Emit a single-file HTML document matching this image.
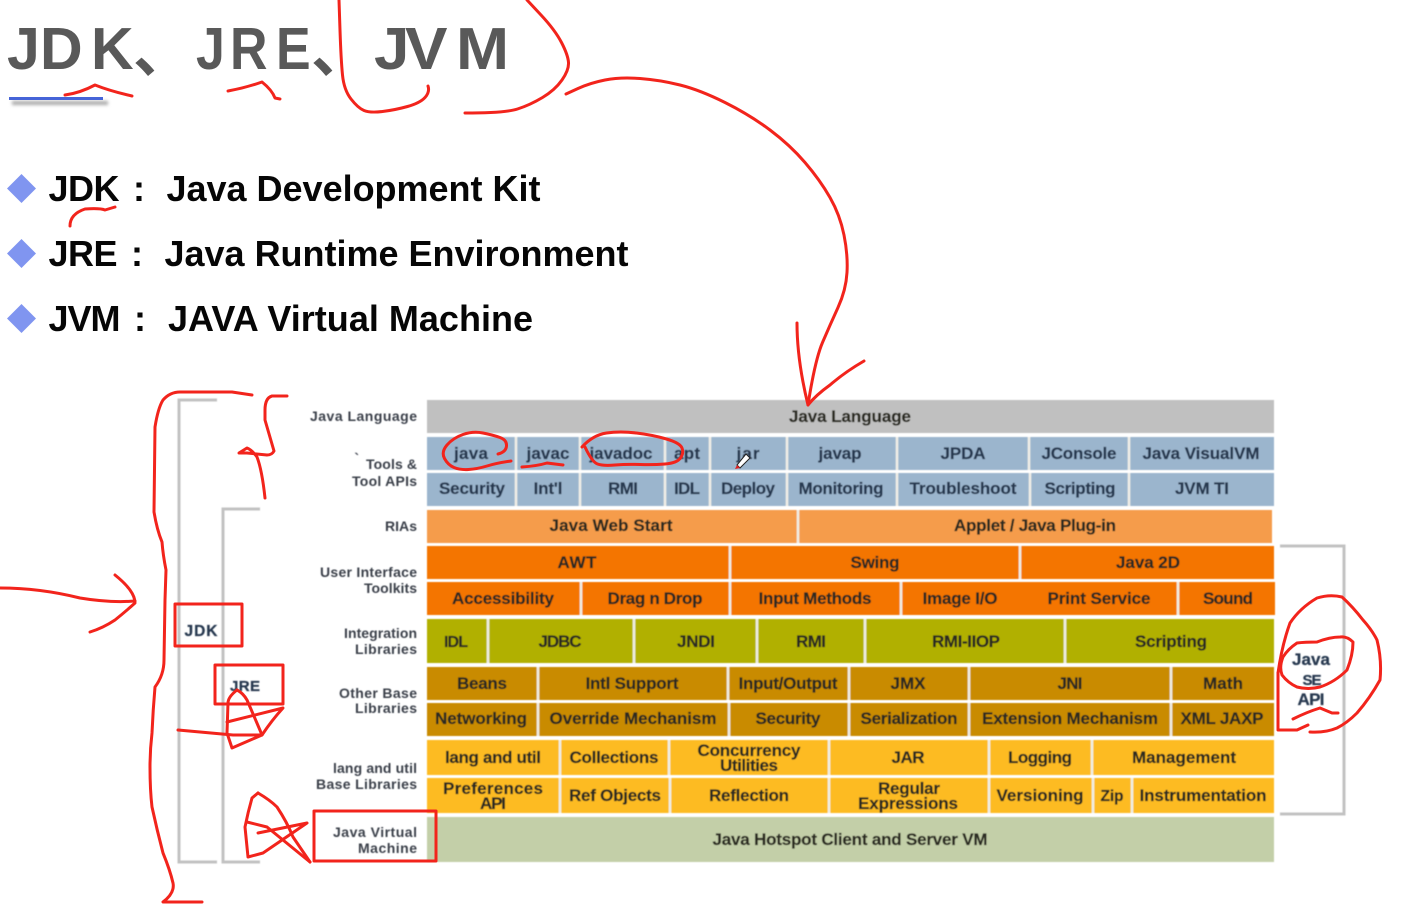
<!DOCTYPE html>
<html>
<head>
<meta charset="utf-8">
<title>JDK JRE JVM</title>
<style>
html,body{margin:0;padding:0;background:#fff;width:1414px;height:904px;overflow:hidden}
svg{display:block}
text{font-family:"Liberation Sans","Noto Sans CJK SC",sans-serif}
.t{font-weight:bold;font-size:59px;fill:#595959}
.b{font-weight:bold;font-size:36px;fill:#060606}
.c{font-weight:bold;font-size:17px;fill:#2a2a20;text-anchor:middle;stroke:#2a2a20;stroke-width:.25}
.n{fill:#26384f;stroke:#26384f}
.l{font-weight:bold;font-size:14px;fill:#3a3f4a;text-anchor:end}
.r{fill:none;stroke:#f2241c;stroke-width:3;stroke-linejoin:round;stroke-linecap:round}
.g{fill:none;stroke:#c2c2c2;stroke-width:3}
.d{stroke:#efeee6;stroke-width:2.6}
</style>
</head>
<body>
<svg width="1414" height="904" viewBox="0 0 1414 904" xmlns="http://www.w3.org/2000/svg">
<defs>
<filter id="s" x="-10%" y="-10%" width="120%" height="120%"><feGaussianBlur stdDeviation="0.5"/></filter>
<filter id="sh" x="-10%" y="-100%" width="120%" height="300%"><feGaussianBlur stdDeviation="1.5"/></filter>
</defs>
<rect width="1414" height="904" fill="#fff"/>

<!-- title -->
<text class="t" x="7 40 91" y="69">JDK</text>
<text class="t" x="133" y="72">、</text>
<text class="t" transform="translate(0,69) scale(.88,1)" x="222.7 261.4 313.6" y="0">JRE</text>
<text class="t" x="311" y="72">、</text>
<text class="t" transform="translate(0,69) scale(1.08,1)" x="346.3 375 422.2" y="0">JVM</text>
<rect x="12" y="101" width="96" height="4" fill="#aaa" filter="url(#sh)"/>
<rect x="9" y="97" width="94" height="3" fill="#4664d8"/>

<!-- bullets -->
<polygon points="21.5,174 36,188.5 21.5,203 7,188.5" fill="#8095f0"/>
<polygon points="21.5,239 36,253.5 21.5,268 7,253.5" fill="#8095f0"/>
<polygon points="21.5,304 36,318.5 21.5,333 7,318.5" fill="#8095f0"/>
<text class="b" x="48.5" y="201" textLength="71">JDK</text>
<text class="b" x="133" y="201">:</text>
<text class="b" x="166.5" y="201" textLength="374">Java Development Kit</text>
<text class="b" x="48.5" y="266" textLength="69">JRE</text>
<text class="b" x="131" y="266">:</text>
<text class="b" x="164.5" y="266" textLength="464">Java Runtime Environment</text>
<text class="b" x="48.5" y="331" textLength="72">JVM</text>
<text class="b" x="134" y="331">:</text>
<text class="b" x="168" y="331" textLength="365">JAVA Virtual Machine</text>

<g filter="url(#s)">
<!-- rows -->
<rect x="427" y="400" width="847" height="33" fill="#c0c0c0"/>
<rect x="427" y="437" width="847" height="33" fill="#9bb5cd"/>
<rect x="427" y="473" width="847" height="33" fill="#9bb5cd"/>
<rect x="427" y="510" width="845" height="33" fill="#f59c4c"/>
<rect x="427" y="546" width="847" height="33" fill="#f47502"/>
<rect x="427" y="582" width="848" height="33" fill="#f47502"/>
<rect x="427" y="619" width="847" height="44" fill="#b1b000"/>
<rect x="427" y="667" width="847" height="33" fill="#c98b00"/>
<rect x="427" y="703" width="847" height="33" fill="#c98b00"/>
<rect x="427" y="740" width="847" height="35" fill="#fdbb22"/>
<rect x="427" y="778" width="847" height="35" fill="#fdbb22"/>
<rect x="427" y="817" width="847" height="45" fill="#c3cfa8"/>

<!-- dividers -->
<path class="d" d="M516 437V470M580 437V470M665 437V470M710 437V470M787 437V470M897 437V470M1029 437V470M1129 437V470"/>
<path class="d" d="M516 473V506M580 473V506M665 473V506M710 473V506M787 473V506M897 473V506M1030 473V506M1129 473V506"/>
<path class="d" d="M798 510V543"/>
<path class="d" d="M730 546V579M1020 546V579"/>
<path class="d" d="M581 582V615M730 582V615M901 582V615M1178 582V615"/>
<path class="d" d="M488 619V663M634 619V663M757 619V663M865 619V663M1065 619V663"/>
<path class="d" d="M538 667V700M728 667V700M849 667V700M969 667V700M1171 667V700"/>
<path class="d" d="M538 703V736M729 703V736M849 703V736M969 703V736M1171 703V736"/>
<path class="d" d="M560 740V775M669 740V775M829 740V775M989 740V775M1092 740V775"/>
<path class="d" d="M560 778V813M670 778V813M829 778V813M989 778V813M1093 778V813M1132 778V813"/>

<!-- cell labels -->
<text class="c" x="850" y="422" textLength="122">Java Language</text>
<text class="c n" x="471" y="459" textLength="34">java</text>
<text class="c n" x="548" y="459" textLength="43">javac</text>
<text class="c n" x="621" y="459" textLength="63">javadoc</text>
<text class="c n" x="687" y="459" textLength="26">apt</text>
<text class="c n" x="748" y="459" textLength="23">jar</text>
<text class="c n" x="840" y="459" textLength="43">javap</text>
<text class="c n" x="963" y="459" textLength="45">JPDA</text>
<text class="c n" x="1079" y="459" textLength="75">JConsole</text>
<text class="c n" x="1201" y="459" textLength="117">Java VisualVM</text>
<text class="c n" x="472" y="494" textLength="66">Security</text>
<text class="c n" x="548" y="494" textLength="29">Int'l</text>
<text class="c n" x="623" y="494" textLength="30">RMI</text>
<text class="c n" x="687" y="494" textLength="26">IDL</text>
<text class="c n" x="748" y="494" textLength="54">Deploy</text>
<text class="c n" x="841" y="494" textLength="85">Monitoring</text>
<text class="c n" x="963" y="494" textLength="107">Troubleshoot</text>
<text class="c n" x="1080" y="494" textLength="71">Scripting</text>
<text class="c n" x="1202" y="494" textLength="54">JVM TI</text>
<text class="c" x="611" y="531" textLength="123">Java Web Start</text>
<text class="c" x="1035" y="531" textLength="162">Applet / Java Plug-in</text>
<text class="c" x="577" y="568" textLength="39">AWT</text>
<text class="c" x="875" y="568" textLength="49">Swing</text>
<text class="c" x="1148" y="568" textLength="64">Java 2D</text>
<text class="c" x="503" y="604" textLength="102">Accessibility</text>
<text class="c" x="655" y="604" textLength="95">Drag n Drop</text>
<text class="c" x="815" y="604" textLength="113">Input Methods</text>
<text class="c" x="960" y="604" textLength="75">Image I/O</text>
<text class="c" x="1099" y="604" textLength="103">Print Service</text>
<text class="c" x="1228" y="604" textLength="50">Sound</text>
<text class="c" x="456" y="647" style="font-size:16px" textLength="24">IDL</text>
<text class="c" x="560" y="647" textLength="43">JDBC</text>
<text class="c" x="696" y="647" textLength="38">JNDI</text>
<text class="c" x="811" y="647" textLength="30">RMI</text>
<text class="c" x="966" y="647" textLength="68">RMI-IIOP</text>
<text class="c" x="1171" y="647" textLength="72">Scripting</text>
<text class="c" x="482" y="689" textLength="50">Beans</text>
<text class="c" x="632" y="689" textLength="93">Intl Support</text>
<text class="c" x="788" y="689" textLength="99">Input/Output</text>
<text class="c" x="908" y="689" textLength="35">JMX</text>
<text class="c" x="1070" y="689" textLength="25">JNI</text>
<text class="c" x="1223" y="689" textLength="40">Math</text>
<text class="c" x="481" y="724" textLength="92">Networking</text>
<text class="c" x="633" y="724" textLength="167">Override Mechanism</text>
<text class="c" x="788" y="724" textLength="65">Security</text>
<text class="c" x="909" y="724" textLength="97">Serialization</text>
<text class="c" x="1070" y="724" textLength="176">Extension Mechanism</text>
<text class="c" x="1222" y="724" textLength="83">XML JAXP</text>
<text class="c" x="493" y="763" textLength="96">lang and util</text>
<text class="c" x="614" y="763" textLength="89">Collections</text>
<text class="c" x="749" y="756" textLength="103">Concurrency</text>
<text class="c" x="749" y="771" textLength="58">Utilities</text>
<text class="c" x="908" y="763" textLength="33">JAR</text>
<text class="c" x="1040" y="763" textLength="64">Logging</text>
<text class="c" x="1184" y="763" textLength="104">Management</text>
<text class="c" x="493" y="794" textLength="100">Preferences</text>
<text class="c" x="493" y="809" textLength="26">API</text>
<text class="c" x="615" y="801" textLength="92">Ref Objects</text>
<text class="c" x="749" y="801" textLength="80">Reflection</text>
<text class="c" x="909" y="794" textLength="62">Regular</text>
<text class="c" x="908" y="809" textLength="100">Expressions</text>
<text class="c" x="1040" y="801" textLength="87">Versioning</text>
<text class="c" x="1112" y="801" style="font-size:15.5px" textLength="23">Zip</text>
<text class="c" x="1203" y="801" textLength="127">Instrumentation</text>
<text class="c" x="850" y="845" textLength="275">Java Hotspot Client and Server VM</text>

<!-- left labels -->
<text class="l" x="417" y="421" textLength="107">Java Language</text>
<text class="l" x="359" y="463">`</text>
<text class="l" x="417" y="469" textLength="51">Tools &amp;</text>
<text class="l" x="417" y="486" textLength="65">Tool APIs</text>
<text class="l" x="417" y="531" textLength="32">RIAs</text>
<text class="l" x="417" y="577" textLength="97">User Interface</text>
<text class="l" x="417" y="593" textLength="53">Toolkits</text>
<text class="l" x="417" y="638" textLength="73">Integration</text>
<text class="l" x="417" y="654" textLength="62">Libraries</text>
<text class="l" x="417" y="698" textLength="78">Other Base</text>
<text class="l" x="417" y="713" textLength="62">Libraries</text>
<text class="l" x="417" y="773" textLength="84">lang and util</text>
<text class="l" x="417" y="789" textLength="101">Base Libraries</text>
<text class="l" x="417" y="837" textLength="84">Java Virtual</text>
<text class="l" x="417" y="853" textLength="59">Machine</text>

<!-- brackets -->
<path class="g" d="M217 400H179V862H217"/>
<path class="g" d="M260 509H223V862H260"/>
<path class="g" d="M1280 546H1344V814H1280"/>
<text class="c n" x="201" y="636" style="font-size:15.5px" textLength="33">JDK</text>
<text class="c n" x="245" y="691" style="font-size:15px" textLength="30">JRE</text>
<text class="c n" x="1311" y="665" textLength="38">Java</text>
<text class="c n" x="1312" y="685" style="font-size:15px" textLength="19">SE</text>
<text class="c n" x="1311" y="705" textLength="27">API</text>
</g>

<!-- pen cursor -->
<polygon points="737,465 746,454 750,458 740,468" fill="#fff" stroke="#222" stroke-width="1"/>
<polygon points="735,469 737,465 740,468" fill="#e02020"/>

<!-- red annotations -->
<g>
<path class="r" d="M566 94 L578 88.5 Q590 83 605 80 Q620 77 640 78.5 Q660 80 680 85 Q700 90 725 102.5 Q750 115 770 130 Q790 145 805 162.5 Q820 180 830 197.5 Q840 215 844 235 Q848 255 847 272.5 Q846 290 838 307.5 Q830 325 822.5 342.5 Q815 360 808 405"/>
<path class="r" d="M797 323 Q797 360 808 405 Q816 395 830 385 Q845 372 864 361"/>
<path class="r" d="M339 0 L340 30 Q341 60 342.5 75 Q344 90 351 99 Q358 108 364 110.5 Q370 113 382.5 111.5 Q395 110 407.5 106.5 Q420 103 425 97.5 Q430 92 428 86"/>
<path class="r" d="M527 0 L541 15 Q555 30 561.5 42.5 Q568 55 568.5 62.5 Q569 70 562 80 Q555 90 542.5 97.5 Q530 105 517.5 109 Q505 113 465 113"/>
<path class="r" d="M65 95 Q80 93 95 85 Q110 91 132 96"/>
<path class="r" d="M228 91 Q245 88 262 82 Q272 90 275 98 L280 99"/>
<path class="r" d="M70 226 Q70 214 85 209 Q100 208 105 210 L115 207"/>
<path class="r" d="M498 454 Q506 452 506.5 446 Q507 440 500 437.5 Q493 435 483 433 Q473 431 463 434.5 Q453 438 447 445 Q441 452 444.5 458.5 Q448 465 454 467.5 Q460 470 468.5 469.5 Q477 469 487 466 Q497 463 511 461"/>
<path class="r" d="M522 467 Q537 466 547 463 L563 465"/>
<path class="r" d="M582 447 Q593 435 606.5 433 Q620 431 636.5 433 Q653 435 666.5 439 Q680 443 682 448 Q684 453 680.5 458 Q677 463 665 464 Q653 465 640 464.5 Q627 464 615 465 Q603 466 597.5 464 Q592 462 585 447"/>
<path class="r" d="M287 396 L272 396 Q265 398 265 410 L265 420 Q270 437 274 451 Q272 455 267 455 L247 453 L239 453 L247 448 Q252 450 257 457 Q262 470 265 498"/>
<path class="r" d="M252 395 L232 392 L180 392 Q170 392 163 400 Q158 408 155 427 L154 512 Q157 530 162 542 Q163 555 166 570 L165 600 L164 660 Q164 675 155 687 Q153 710 152 733 Q150 750 150 767 Q150 790 152 807 Q157 830 163 853 Q170 870 173 883 Q175 893 163 902 L202 902"/>
<path class="r" d="M0 588 Q40 588 80 598 Q110 603 135 601"/>
<path class="r" d="M115 575 Q125 583 130 590 Q135 597 135 603 Q125 612 115 620 Q103 628 90 632"/>
<rect class="r" x="175" y="604" width="67" height="42"/>
<rect class="r" x="215" y="665" width="68" height="39"/>
<rect class="r" x="314" y="811" width="122" height="50"/>
<path class="r" d="M237 690 Q228 697 228 703 L227 733 L232 748 L262 735 Q257 723 247 700 Q243 693 237 690"/>
<path class="r" d="M227 722 Q247 717 283 708 Q272 720 262 735 L233 735 L178 730"/>
<path class="r" d="M258 793 L252 798 Q248 812 245 827 L248 857 L263 853 L307 823 L258 833"/>
<path class="r" d="M247 822 L267 827 L310 862"/>
<path class="r" d="M258 793 Q270 800 277 807 Q287 822 293 837 L310 862"/>
<path class="r" d="M1317 642 Q1305 642 1297 643 Q1288 649 1283 657 Q1279 667 1282 675 Q1288 683 1297 687 Q1308 690 1320 687 Q1335 682 1347 670 Q1353 655 1353 642 Q1347 636 1340 637 Q1330 637 1317 642"/>
<path class="r" d="M1278 673 Q1282 645 1290 623 Q1300 608 1317 598 Q1330 594 1342 597 Q1353 607 1363 620 Q1372 630 1377 640 Q1382 660 1380 680 Q1370 698 1357 713 Q1347 723 1337 728 Q1325 733 1310 732"/>
<path class="r" d="M1278 673 L1278 730 L1297 730 L1308 725"/>
<path class="r" d="M1293 719 Q1307 712 1320 708 L1332 713 L1338 713"/>
</g>
</svg>
</body>
</html>
